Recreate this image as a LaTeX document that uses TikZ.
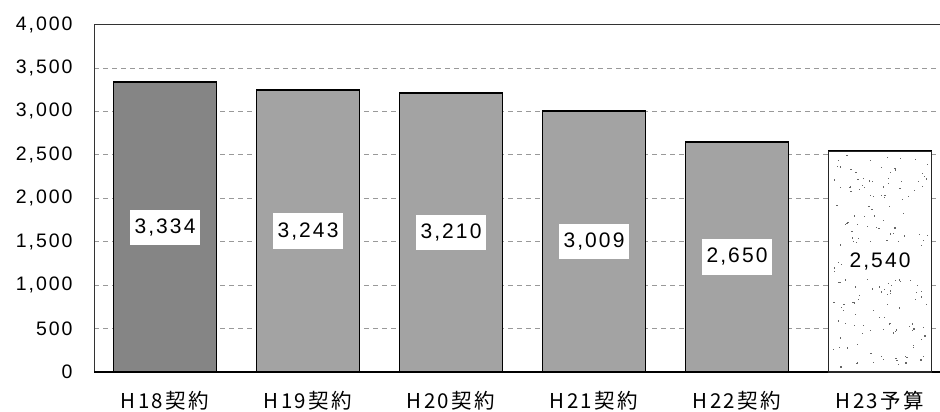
\documentclass[tikz,border=0pt]{standalone}
\usepackage{fontspec}
\setmainfont[LetterSpace=10]{Liberation Sans}
\newfontfamily\jpfont[LetterSpace=12]{Noto Sans CJK JP}
\usetikzlibrary{positioning}
\pgfkeys{/pgf/number format/.cd, assume math mode=true, 1000 sep={,}}
\tikzset{
every picture/.style={
line width=1pt
},
gridline/.style={draw=black!40, line width=0.7pt, dash pattern=on 5pt off 4pt},
bar/.style={draw=black, line width=1.8pt, minimum width=103pt, anchor=south, inner sep=0pt, outer sep=0pt},
barval/.style={fill=white, inner xsep=5pt, inner ysep=9pt, font=\fontsize{21}{21}\selectfont},
ticklabel/.style={anchor=east, inner sep=0pt, font=\fontsize{19.5}{19.5}\selectfont},
catlabel/.style={font=\jpfont\fontsize{20.5}{20.5}\selectfont}
}

\begin{document}
\begin{tikzpicture}
  \useasboundingbox (0,0) rectangle (940pt,412pt);
  \begin{scope}[x=1pt, y=0.086875pt, yshift=40pt]
  \foreach \y in {500,1000,...,3500}{
    \draw[gridline] (94,\y) -- (940,\y);
  }
  \foreach \y in {0,500,...,4000}{
    \node[ticklabel] (t\y) at (73,\y) {\pgfmathprintnumber{\y}};
  }
  \draw[black!80] (94,0) -- (94,4000) -- (940,4000);
  \draw[black, line width=1.2pt] (94,0) -- (940,0);

  \foreach \v/\c/\f [count=\i] in {3334/H18契約/black!48, 3243/H19契約/black!36,
      3210/H20契約/black!36, 3009/H21契約/black!36, 2650/H22契約/black!36, 2540/H23予算/white}{
    \node[bar, fill=\f, minimum height=\v*0.086875pt] (b\i) at (22+143*\i,0) {};
    \node[catlabel] (c\i) at ([yshift=-29pt]b\i.south) {\c};
  }
  \draw[black!85, line width=1.2pt] (b6.south west) rectangle (b6.north east);

  \pgfmathsetseed{23}
  \foreach \k in {1,2,...,180}{
    \fill[black!60] (880+47*rand, 1270+1225*rand) rectangle +(1.2pt,1.2pt);
  }

  \foreach \v [count=\i] in {3334,3243,3210,3009,2650,2540}{
    \node[barval] (v\i) at (b\i.center) {\pgfmathprintnumber{\v}};
  }
  \end{scope}
\end{tikzpicture}
\end{document}
